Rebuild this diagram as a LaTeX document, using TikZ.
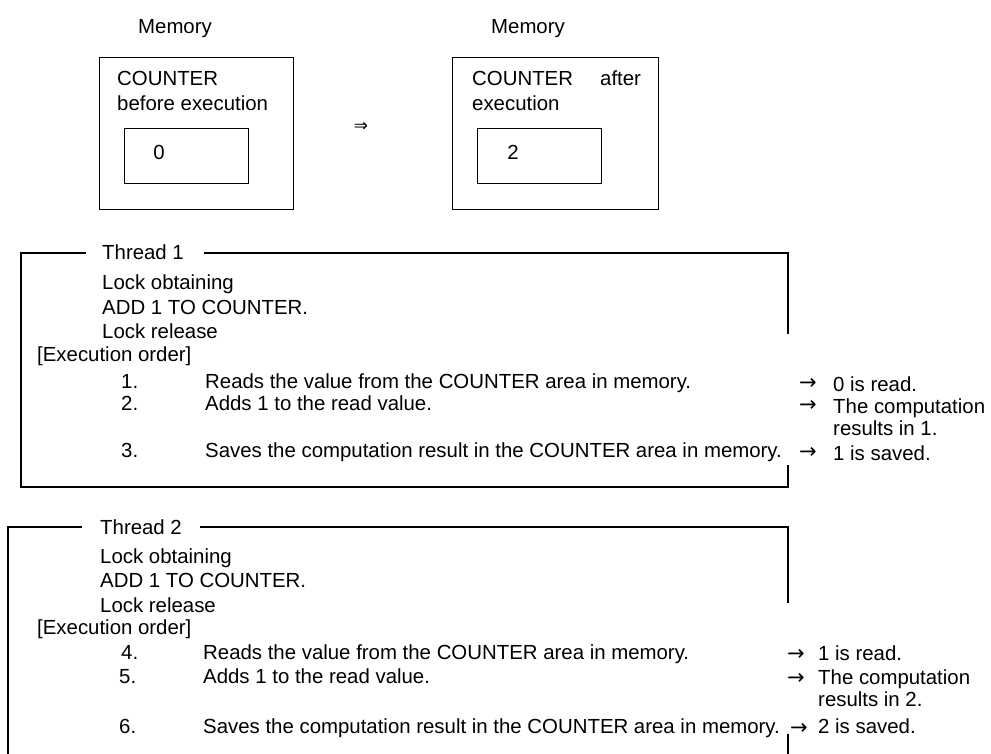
\documentclass[tikz,border=0pt]{standalone}
\usepackage{fontspec}
\setmainfont{Liberation Sans}
\newfontfamily\symfont{DejaVu Sans}
\begin{document}
\begin{tikzpicture}[x=1pt,y=-1pt,
  txt/.style={anchor=west,inner sep=0pt,text height=14pt,text depth=0pt,font=\fontsize{20.4}{24}\selectfont},
  ctxt/.style={txt,anchor=center},
  arrowsym/.style={txt,font=\symfont\fontsize{21}{24}\selectfont},
  box/.style={draw=black,line width=1.3pt,inner sep=0pt,anchor=north west},
  frameline/.style={draw=black,line width=1.3pt}]
\fill[white] (0,0) rectangle (991,754);
\useasboundingbox (0,0) rectangle (991,754);

% ---------- Memory boxes ----------
\node[ctxt] (mem1) at (175,27) {Memory};
\node[ctxt] (mem2) at (528,27) {Memory};

\node[box,minimum width=194pt,minimum height=152pt] (box1) at (99,57) {};
\node[box,minimum width=124pt,minimum height=55pt] (val1) at (124,128) {};
\node[txt] (c1a) at (117,79) {COUNTER};
\node[txt] (c1b) at (117,104) {before execution};
\node[ctxt] (v1) at (159,153) {0};

\node[txt,anchor=center,text height=8pt,font=\symfont\fontsize{17}{17}\selectfont] (imp) at (361,128) {⇒};

\node[box,minimum width=206pt,minimum height=152pt] (box2) at (452,57) {};
\node[box,minimum width=124pt,minimum height=55pt] (val2) at (477,128) {};
\node[txt] (c2a) at (472,79) {COUNTER};
\node[txt] (c2b) at (600,79) {after};
\node[txt] (c2c) at (472,104) {execution};
\node[ctxt] (v2) at (513,153) {2};

% ---------- Thread 1 ----------
\node[txt] (t1) at (102,253) {Thread 1};
\coordinate (t1tl) at (21,253);
\coordinate (t1tr) at (788,253);
\coordinate (t1bl) at (21,487);
\coordinate (t1br) at (788,487);
\coordinate (t1gapa) at (788,334);
\coordinate (t1gapb) at (788,465);
\draw[frameline] ([xshift=-16pt]t1.west) -- (t1tl) -- (t1bl) -- (t1br) -- (t1gapb);
\draw[frameline] ([xshift=20pt]t1.east) -- (t1tr) -- (t1gapa);

\node[txt] (lo1) at (102,283) {Lock obtaining};
\node[txt] (add1) at (102,307) {ADD 1 TO COUNTER.};
\node[txt] (lr1) at (102,331) {Lock release};
\node[txt] (eo1) at (37,354) {[Execution order]};
\node[txt] (n1) at (121,381) {1.};
\node[txt] (s1) at (205,381) {Reads the value from the COUNTER area in memory.};
\node[txt] (n2) at (121,403) {2.};
\node[txt] (s2) at (205,403) {Adds 1 to the read value.};
\node[txt] (n3) at (121,450) {3.};
\node[txt] (s3) at (205,450) {Saves the computation result in the COUNTER area in memory.};
\node[arrowsym] (a1) at (799,382) {→};
\node[txt] (r1) at (833,384) {0 is read.};
\node[arrowsym] (a2) at (799,404) {→};
\node[txt] (r2) at (833,406) {The computation};
\node[txt] (r2b) at (833,428) {results in 1.};
\node[arrowsym] (a3) at (799,451) {→};
\node[txt] (r3) at (833,453) {1 is saved.};

% ---------- Thread 2 ----------
\node[txt] (t2) at (100,527) {Thread 2};
\coordinate (t2tl) at (8,527);
\coordinate (t2tr) at (788,527);
\coordinate (t2bl) at (8,754);
\coordinate (t2gapa) at (788,603);
\coordinate (t2gapb) at (788,734);
\coordinate (t2end) at (788,754);
\draw[frameline] ([xshift=-18pt]t2.west) -- (t2tl) -- (t2bl);
\draw[frameline] ([xshift=18pt]t2.east) -- (t2tr) -- (t2gapa);
\draw[frameline] (t2gapb) -- (t2end);

\node[txt] (lo2) at (100,556) {Lock obtaining};
\node[txt] (add2) at (100,580) {ADD 1 TO COUNTER.};
\node[txt] (lr2) at (100,605) {Lock release};
\node[txt] (eo2) at (37,627) {[Execution order]};
\node[txt] (n4) at (121,652) {4.};
\node[txt] (s4) at (203,652) {Reads the value from the COUNTER area in memory.};
\node[txt] (n5) at (119,676) {5.};
\node[txt] (s5) at (203,676) {Adds 1 to the read value.};
\node[txt] (n6) at (119,726) {6.};
\node[txt] (s6) at (203,726) {Saves the computation result in the COUNTER area in memory.};
\node[arrowsym] (a4) at (787,653) {→};
\node[txt] (r4) at (818,653) {1 is read.};
\node[arrowsym] (a5) at (787,677) {→};
\node[txt] (r5) at (818,677) {The computation};
\node[txt] (r5b) at (818,699) {results in 2.};
\node[arrowsym] (a6) at (790,727) {→};
\node[txt] (r6) at (818,726) {2 is saved.};
\end{tikzpicture}
\end{document}
